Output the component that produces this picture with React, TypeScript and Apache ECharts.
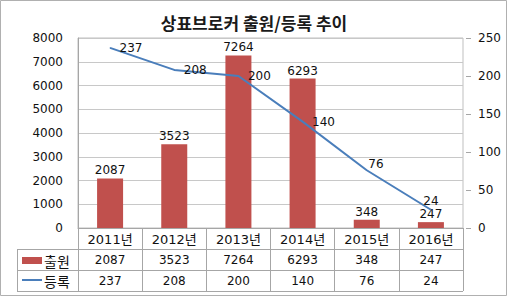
import React, { useEffect, useRef } from "react";
import * as echarts from "echarts";

const title = "상표브로커 출원/등록 추이";
const categories = ["2011년", "2012년", "2013년", "2014년", "2015년", "2016년"];
const seriesNames = ["출원", "등록"];
const applications = [2087, 3523, 7264, 6293, 348, 247];
const registrations = [237, 208, 200, 140, 76, 24];
const leftAxis = { min: 0, max: 8000, interval: 1000 };
const rightAxis = { min: 0, max: 250, interval: 50 };

const RED = "#C0504D";
const BLUE = "#4A7EBB";
const NUM_FONT = "'DejaVu Sans', 'Noto Sans CJK KR', sans-serif";
const KR_FONT = "'Noto Sans CJK KR', sans-serif";

export default function App() {
  const ref = useRef<HTMLDivElement>(null);
  useEffect(() => {
    if (!ref.current) return;
    const chart = echarts.init(ref.current, undefined, { renderer: "svg" });
    const gLeft = 78, gRight = 463, gBottom = 228;
    const tableLine = { stroke: "#a6a6a6", lineWidth: 1 };
    const regLabel = registrations.map((v, i) => {
      if (i === registrations.length - 1) return { value: v, label: { position: "top", distance: 2 } };
      if (i === 4) return { value: v, label: { position: "right", distance: 1, offset: [0, -6] } };
      return { value: v };
    });
    chart.setOption({
      animation: false,
      backgroundColor: "#fff",
      title: {
        text: title,
        left: "center",
        top: 9,
        textStyle: { fontFamily: KR_FONT, fontSize: 17, fontWeight: "bold", color: "#1a1a1a" },
      },
      grid: {
        left: gLeft, right: 508 - gRight, top: 38, bottom: 299 - gBottom,
        show: true, borderColor: "#bfbfbf", borderWidth: 1,
      },
      xAxis: [
        {
          type: "category",
          data: categories,
          axisLine: { show: true, lineStyle: { color: "#a6a6a6" } },
          axisTick: { show: true, length: 63, interval: 0, alignWithLabel: false, lineStyle: { color: "#a6a6a6" } },
          axisLabel: { interval: 0, margin: 5, fontSize: 13, color: "#111", fontFamily: NUM_FONT },
          splitLine: { show: false },
        },
        {
          type: "category",
          gridIndex: 0,
          position: "bottom",
          offset: 21,
          data: applications.map(String),
          axisLine: { show: false },
          axisTick: { show: false },
          axisLabel: { interval: 0, margin: 5, fontSize: 12, color: "#111", fontFamily: NUM_FONT },
        },
        {
          type: "category",
          gridIndex: 0,
          position: "bottom",
          offset: 42,
          data: registrations.map(String),
          axisLine: { show: false },
          axisTick: { show: false },
          axisLabel: { interval: 0, margin: 5, fontSize: 12, color: "#111", fontFamily: NUM_FONT },
        },
      ],
      yAxis: [
        {
          type: "value",
          min: leftAxis.min, max: leftAxis.max, interval: leftAxis.interval,
          axisLine: { show: true, lineStyle: { color: "#a6a6a6" } },
          axisTick: { show: false },
          axisLabel: { margin: 15, fontSize: 12, color: "#111", fontFamily: NUM_FONT, formatter: (v: number) => String(v) },
          splitLine: { show: true, lineStyle: { color: "#c8c8c8" } },
        },
        {
          type: "value",
          position: "right",
          offset: 3,
          min: rightAxis.min, max: rightAxis.max, interval: rightAxis.interval,
          axisLine: { show: false },
          axisTick: { show: true, length: 5, lineStyle: { color: "#a6a6a6" } },
          axisLabel: { margin: 12, fontSize: 12, color: "#111", fontFamily: NUM_FONT, formatter: (v: number) => String(v) },
          splitLine: { show: false },
        },
      ],
      series: [
        {
          name: seriesNames[0],
          type: "bar",
          xAxisIndex: 0,
          yAxisIndex: 0,
          data: applications,
          barWidth: 26,
          itemStyle: { color: RED },
          label: { show: true, position: "top", distance: 2, fontSize: 12, color: "#111", fontFamily: NUM_FONT },
        },
        {
          name: seriesNames[1],
          type: "line",
          xAxisIndex: 0,
          yAxisIndex: 1,
          data: regLabel,
          symbol: "circle",
          symbolSize: 1,
          lineStyle: { color: BLUE, width: 2 },
          itemStyle: { color: BLUE },
          label: { show: true, position: "right", distance: 9, fontSize: 12, color: "#111", fontFamily: NUM_FONT },
        },
      ],
      graphic: [
        { type: "rect", shape: { x: 0.5, y: 0.5, width: 506, height: 295 }, style: { fill: "none", stroke: "#b0b0b0", lineWidth: 1 }, silent: true },
        { type: "line", shape: { x1: 17, y1: 249.5, x2: gRight, y2: 249.5 }, style: tableLine, silent: true },
        { type: "line", shape: { x1: 17, y1: 270.5, x2: gRight, y2: 270.5 }, style: tableLine, silent: true },
        { type: "line", shape: { x1: 17, y1: 291.5, x2: gRight, y2: 291.5 }, style: tableLine, silent: true },
        { type: "line", shape: { x1: 17.5, y1: 249.5, x2: 17.5, y2: 291.5 }, style: tableLine, silent: true },
        { type: "rect", shape: { x: 22, y: 257, width: 20, height: 7 }, style: { fill: RED }, silent: true },
        { type: "text", x: 44, y: 260.5, style: { text: seriesNames[0], fontFamily: KR_FONT, fontSize: 14, fill: "#111", verticalAlign: "middle" }, silent: true },
        { type: "line", shape: { x1: 22, y1: 280, x2: 42, y2: 280 }, style: { stroke: BLUE, lineWidth: 2 }, silent: true },
        { type: "text", x: 44, y: 281, style: { text: seriesNames[1], fontFamily: KR_FONT, fontSize: 14, fill: "#111", verticalAlign: "middle" }, silent: true },
      ],
    });
    return () => chart.dispose();
  }, []);
  return <div ref={ref} style={{ position: "fixed", left: 0, top: 0, width: 508, height: 299 }} />;
}
